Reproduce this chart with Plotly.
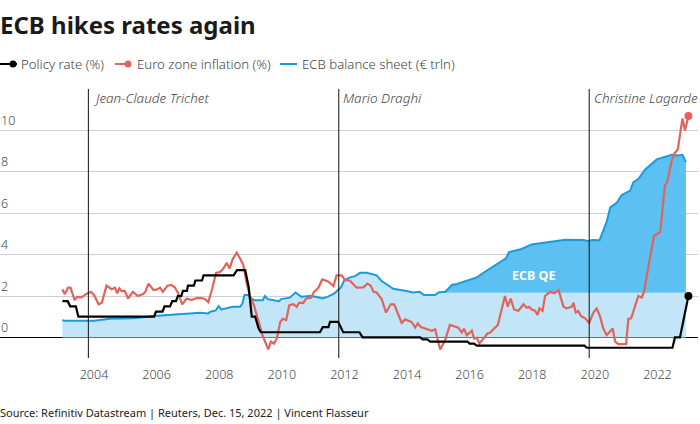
import plotly.graph_objects as go

# Decimal years
policy_x = [2002.99,2003.16,2003.24,2003.42,2003.50,2005.92,2005.98,2006.19,2006.25,2006.43,2006.50,2006.62,2006.68,2006.79,2006.84,2006.97,2007.0,2007.19,2007.24,2007.45,2007.50,2008.46,2008.57,2008.83,2008.94,2009.04,2009.15,2009.26,2009.33,2011.22,2011.31,2011.49,2011.54,2011.80,2011.96,2012.48,2012.58,2014.42,2014.50,2014.65,2014.74,2015.93,2016.0,2016.14,2016.23,2019.67,2019.74,2022.48,2022.56,2022.72,2022.99]
policy_y = [1.75,1.75,1.5,1.5,1.0,1.0,1.25,1.25,1.5,1.5,1.75,1.75,2.0,2.0,2.25,2.25,2.5,2.5,2.75,2.75,3.0,3.0,3.25,3.25,2.45,1.0,1.0,0.43,0.25,0.25,0.5,0.5,0.75,0.75,0.25,0.25,0.0,0.0,-0.1,-0.1,-0.2,-0.2,-0.3,-0.3,-0.4,-0.4,-0.5,-0.5,0.0,0.0,2.0]

infl_x = [2002.99,2003.07,2003.17,2003.25,2003.38,2003.46,2003.60,2003.74,2003.90,2004.0,2004.15,2004.25,2004.40,2004.56,2004.67,2004.74,2004.81,2004.88,2004.98,2005.09,2005.24,2005.40,2005.57,2005.64,2005.74,2005.90,2006.01,2006.11,2006.2,2006.35,2006.47,2006.58,2006.69,2006.82,2006.96,2007.12,2007.28,2007.44,2007.55,2007.65,2007.78,2007.90,2008.02,2008.11,2008.24,2008.33,2008.43,2008.56,2008.67,2008.77,2008.88,2008.99,2009.10,2009.19,2009.30,2009.40,2009.57,2009.65,2009.75,2009.84,2009.95,2010.03,2010.14,2010.24,2010.37,2010.48,2010.55,2010.69,2010.78,2010.93,2011.03,2011.17,2011.29,2011.48,2011.65,2011.75,2011.91,2012.02,2012.18,2012.39,2012.61,2012.73,2012.84,2012.93,2013.03,2013.19,2013.33,2013.48,2013.59,2013.72,2013.83,2013.94,2014.15,2014.26,2014.34,2014.44,2014.68,2014.79,2014.90,2015.06,2015.22,2015.37,2015.64,2015.75,2015.82,2015.91,2016.07,2016.14,2016.23,2016.31,2016.49,2016.57,2016.65,2016.90,2017.13,2017.22,2017.31,2017.42,2017.56,2017.72,2017.82,2017.90,2017.98,2018.09,2018.17,2018.23,2018.33,2018.41,2018.57,2018.70,2018.84,2019.0,2019.10,2019.26,2019.32,2019.39,2019.47,2019.56,2019.69,2019.82,2019.95,2020.06,2020.17,2020.27,2020.38,2020.57,2020.65,2020.75,2021.0,2021.07,2021.16,2021.39,2021.50,2021.57,2021.71,2021.89,2022.09,2022.24,2022.30,2022.46,2022.56,2022.65,2022.80,2022.88,2022.99]
infl_y = [2.32,2.09,2.40,2.40,1.80,1.96,1.93,2.09,2.20,2.05,1.60,1.67,2.50,2.33,2.40,2.13,2.37,2.24,2.25,1.88,2.20,2.00,2.10,2.20,2.60,2.29,2.32,2.40,2.20,2.50,2.53,2.42,2.13,1.60,1.88,1.80,1.90,1.90,1.84,1.70,2.37,3.12,3.16,3.28,3.60,3.33,3.78,4.09,3.80,3.50,2.60,1.96,1.60,1.16,0.60,0.03,-0.58,-0.20,-0.30,-0.05,0.75,0.90,0.84,1.56,1.60,1.48,1.67,1.67,1.88,1.92,2.20,2.40,2.80,2.70,2.48,3.00,3.00,2.77,2.74,2.40,2.42,2.60,2.50,2.20,2.17,1.85,1.20,1.60,1.60,1.16,0.70,0.87,0.74,0.48,0.68,0.50,0.39,0.32,0.39,-0.58,-0.13,0.60,0.47,0.24,0.42,0.11,0.32,-0.05,-0.02,-0.29,0.03,0.19,0.22,0.60,2.00,1.48,1.88,1.35,1.29,1.60,1.43,1.48,1.35,1.29,1.08,1.40,1.29,2.00,2.20,2.13,2.29,1.48,1.40,1.48,1.67,1.20,1.27,1.03,0.92,0.70,1.19,1.40,1.00,0.43,0.11,0.43,-0.20,-0.32,-0.32,0.89,0.92,2.00,1.93,2.20,3.41,4.90,5.10,7.36,7.44,8.57,8.92,9.08,10.58,10.00,10.69]

bal_x = [2002.99,2003.05,2003.84,2004.0,2004.51,2005.26,2005.92,2006.53,2006.96,2007.39,2007.65,2007.72,2007.89,2007.98,2008.07,2008.23,2008.44,2008.67,2008.74,2008.81,2008.92,2009.02,2009.13,2009.39,2009.46,2009.55,2009.77,2009.91,2009.98,2010.25,2010.44,2010.62,2010.88,2011.09,2011.30,2011.46,2011.68,2011.89,2012.0,2012.18,2012.34,2012.50,2012.71,2013.03,2013.19,2013.46,2013.56,2013.94,2014.20,2014.40,2014.54,2014.90,2015.0,2015.22,2015.43,2015.59,2016.23,2016.49,2016.65,2017.16,2017.26,2017.66,2017.98,2018.52,2019.05,2019.64,2019.80,2019.90,2020.15,2020.38,2020.49,2020.70,2020.86,2021.13,2021.23,2021.39,2021.60,2021.98,2022.46,2022.67,2022.80,2022.91]
bal_y = [0.84,0.80,0.80,0.80,0.90,0.93,1.03,1.11,1.14,1.19,1.16,1.24,1.30,1.51,1.35,1.40,1.48,1.48,1.64,2.05,2.05,1.88,1.80,1.80,2.00,1.85,1.77,1.75,1.85,1.92,2.17,1.96,2.00,1.96,1.88,1.96,2.13,2.42,2.77,2.90,2.96,3.12,3.12,3.00,2.72,2.45,2.35,2.25,2.17,2.20,2.05,2.05,2.17,2.20,2.53,2.58,2.90,3.17,3.33,3.82,4.12,4.27,4.49,4.62,4.72,4.70,4.65,4.70,4.69,5.59,6.28,6.50,6.88,7.09,7.50,7.65,8.10,8.60,8.82,8.79,8.82,8.47]

qe_start = 2015.22
qe_base = 2.16
year_ticks = [2004,2006,2008,2010,2012,2014,2016,2018,2020,2022]
value_ticks = [0,2,4,6,8,10]
president_years = [2003.82,2011.82,2019.82]
president_names = ["Jean-Claude Trichet","Mario Draghi","Christine Lagarde"]
series_names = ["Policy rate (%)","Euro zone inflation (%)","ECB balance sheet (€ trln)"]

FONT = "Noto Sans"
W, H = 700, 424
BLACK, RED, BLUE = "#000000", "#e0645a", "#1a9bdc"
LIGHT, DARK = "#c3e5f8", "#5cc0f2"

light_y = [v if x < qe_start else min(v, qe_base) for x, v in zip(bal_x, bal_y)]
qe_x = [x for x in bal_x if x >= qe_start]
qe_y = [v for x, v in zip(bal_x, bal_y) if x >= qe_start]

fig = go.Figure()
fig.add_trace(go.Scatter(x=bal_x, y=light_y, mode="lines", line=dict(width=0, color=LIGHT), fill="tozeroy", fillcolor=LIGHT, showlegend=False, hoverinfo="skip"))
fig.add_trace(go.Scatter(x=qe_x, y=[qe_base]*len(qe_x), mode="lines", line=dict(width=0, color=LIGHT), showlegend=False, hoverinfo="skip"))
fig.add_trace(go.Scatter(x=qe_x, y=qe_y, mode="lines", line=dict(width=0, color=DARK), fill="tonexty", fillcolor=DARK, showlegend=False, hoverinfo="skip"))
fig.add_trace(go.Scatter(x=bal_x, y=bal_y, mode="lines", line=dict(color=BLUE, width=2), name=series_names[2], showlegend=False))
fig.add_trace(go.Scatter(x=infl_x, y=infl_y, mode="lines", line=dict(color=RED, width=2.2), name=series_names[1], showlegend=False))
fig.add_trace(go.Scatter(x=policy_x, y=policy_y, mode="lines", line=dict(color=BLACK, width=2.2), name=series_names[0], showlegend=False))
fig.add_trace(go.Scatter(x=infl_x[-1:], y=infl_y[-1:], mode="markers", marker=dict(color=RED, size=8), showlegend=False))
fig.add_trace(go.Scatter(x=policy_x[-1:], y=policy_y[-1:], mode="markers", marker=dict(color=BLACK, size=8), showlegend=False))

shapes = []
annotations = []
def text(x, y, s, size, color="#444444", weight=300):
    annotations.append(dict(xref="paper", yref="paper", x=x/W*(W/(W-2)), y=(H-66-y)/(H-89-66),
        text=s, showarrow=False, xanchor="left", yanchor="middle", xshift=-1, borderpad=0,
        font=dict(family=FONT, size=size, color=color, weight=weight)))

for yr, nm in zip(president_years, president_names):
    shapes.append(dict(type="line", xref="x", yref="paper", x0=yr, x1=yr, y0=0, y1=1, line=dict(color="#111111", width=1), layer="above"))
    annotations.append(dict(xref="x", yref="paper", x=yr, y=1, xshift=2.5, yshift=-9, text=nm, showarrow=False, xanchor="left", yanchor="middle",
                            font=dict(family=FONT, size=13.5, color="#444444", style="italic", weight=300)))
for v in value_ticks:
    annotations.append(dict(xref="paper", yref="y", x=0, y=v, yshift=10, xshift=-1, text=str(v), showarrow=False, xanchor="left", yanchor="middle",
                            font=dict(family=FONT, size=12.5, color="#444444", weight=300)))
annotations.append(dict(xref="x", yref="y", x=2018.05, y=3.0, text="ECB QE", showarrow=False, font=dict(family=FONT, size=12.5, color="#ffffff", weight=700)))

text(0, 24.5, "ECB hikes rates again", 24, color="#1a1a1a", weight=700)
text(0, 413, "Source: Refinitiv Datastream | Reuters, Dec. 15, 2022 | Vincent Flasseur", 11, color="#222222", weight=400)
leg = [(0,17,13,21,BLACK,True),(115,131,128,136.5,RED,True),(280,297,None,302,BLUE,False)]
PW = W-2
for (a,b,d,t,c,dot),nm in zip(leg,series_names):
    yy = (H-66-64)/(H-89-66)
    shapes.append(dict(type="line", xref="paper", yref="paper", x0=a/PW, x1=b/PW, y0=yy, y1=yy, line=dict(color=c, width=2)))
    if dot:
        shapes.append(dict(type="circle", xref="paper", yref="paper", x0=(d-3.5)/PW, x1=(d+3.5)/PW, y0=yy-3.5/(H-155), y1=yy+3.5/(H-155), fillcolor=c, line=dict(color=c, width=0)))
    text(t, 64, nm, 13.2)

fig.update_layout(width=W, height=H, autosize=False, margin=dict(l=0, r=2, t=89, b=66),
    paper_bgcolor="white", plot_bgcolor="white", showlegend=False,
    shapes=shapes, annotations=annotations,
    xaxis=dict(range=[2000.997, 2023.296], tickvals=year_ticks, ticktext=[str(y) for y in year_ticks], ticks="", showgrid=False, zeroline=False, showline=False, ticklabelstandoff=7,
               tickfont=dict(family=FONT, size=12.5, color="#444444", weight=300)),
    yaxis=dict(range=[-0.995, 12.0], tickvals=value_ticks, showticklabels=False, ticks="", gridcolor="#cfcfcf", gridwidth=1.2, zeroline=True, zerolinecolor="#000000", zerolinewidth=1.2, showline=False))
fig.write_html("out.html", config={"displayModeBar": False}, post_script="document.body.style.margin='0';document.body.style.overflow='hidden';")
